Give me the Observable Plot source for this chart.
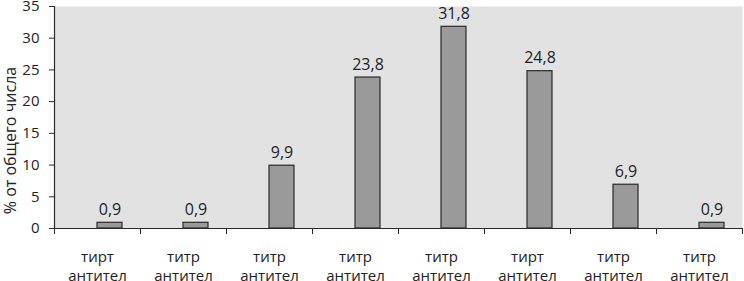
<!DOCTYPE html>
<html><head><meta charset="utf-8">
<script src="https://cdn.jsdelivr.net/npm/d3@7"></script>
<script src="https://cdn.jsdelivr.net/npm/@observablehq/plot@0.6"></script>
<style>body{margin:0;background:#fff;} svg{display:block;}</style>
</head><body><div id="chart"></div>
<script>
const categories = ["тирт антител", "титр антител", "титр антител", "титр антител", "титр антител", "тирт антител", "титр антител", "титр антител"];
const values = [0.9, 0.9, 9.9, 23.8, 31.8, 24.8, 6.9, 0.9];
const yTicks = [0, 5, 10, 15, 20, 25, 30, 35];
const yLabel = "% от общего числа";

const data = categories.map((c, i) => ({i, c, v: values[i]}));
const bounds = d3.range(categories.length + 1);

const chart = Plot.plot({
  width: 744, height: 281,
  marginLeft: 54, marginRight: 2, marginTop: 6, marginBottom: 53,
  style: {fontFamily: "Open Sans", background: "#fff", color: "#222"},
  x: {domain: [0, categories.length], axis: null},
  y: {domain: [0, 35], axis: null},
  marks: [
    Plot.frame({fill: "#e2e2e2", stroke: null}),
    Plot.rectY(data, {x1: "i", x2: d => d.i + 1, y: "v", insetLeft: 43, insetRight: 18, fill: "#9a9a9a", stroke: "#2a2a2a", strokeWidth: 1.2}),
    Plot.ruleY([0], {stroke: "#2a2a2a", strokeWidth: 1.2}),
    Plot.ruleX([0], {stroke: "#2a2a2a", strokeWidth: 1.2}),
    Plot.axisX(bounds, {tickSize: 6, tickFormat: () => "", stroke: "#2a2a2a", label: null}),
    Plot.axisY(yTicks, {tickSize: 5, tickPadding: 10, fontSize: 15, label: null, stroke: "#2a2a2a", fill: "#222"}),
    Plot.text(data, {x: d => d.i + 0.5, y: "v", text: d => String(d.v).replace(".", ","), dx: 12.5, dy: -13, fontSize: 16, fill: "#222"}),
    Plot.text(data, {x: d => d.i + 0.5, frameAnchor: "bottom", text: d => d.c.replace(" ", "\n"), lineAnchor: "top", textAnchor: "middle", dy: 20, lineHeight: 1.28, fontSize: 15, fill: "#222"}),
    Plot.text([yLabel], {frameAnchor: "left", textAnchor: "middle", lineAnchor: "middle", rotate: -90, dx: -44, dy: 23, fontSize: 16, fill: "#222"})
  ]
});
document.getElementById("chart").appendChild(chart);
</script>
</body></html>
